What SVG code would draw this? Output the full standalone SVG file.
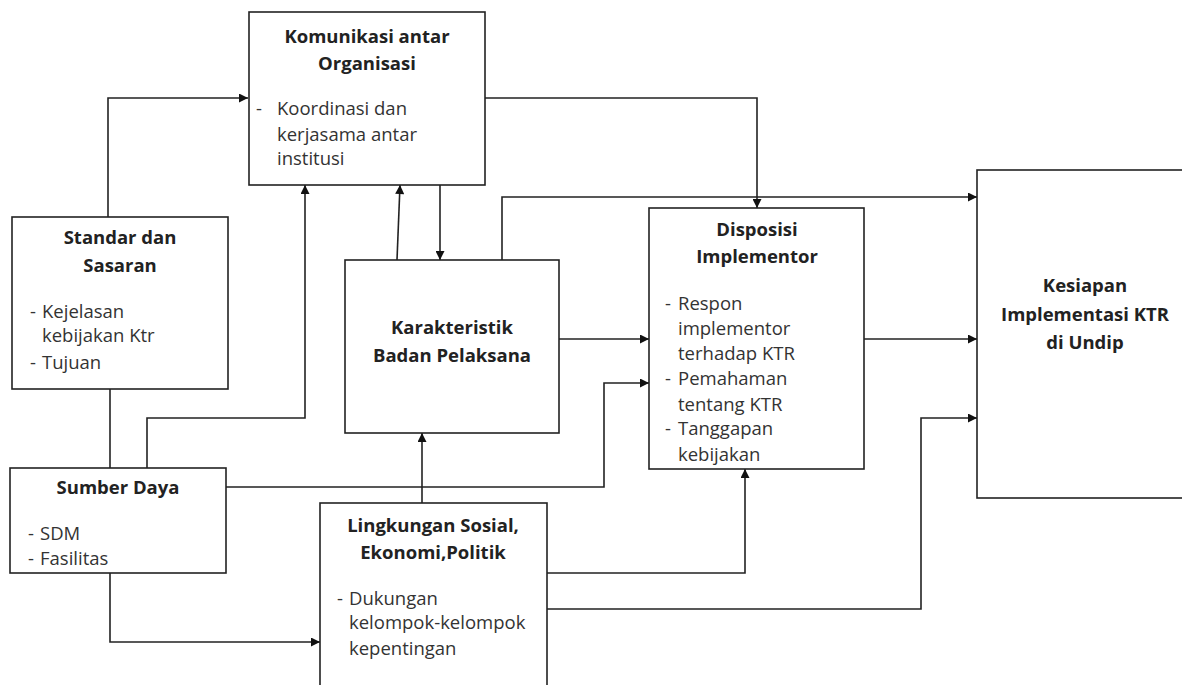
<svg xmlns="http://www.w3.org/2000/svg" width="1182" height="685" viewBox="0 0 1182 685">
  <style>
    .box { fill: #ffffff; stroke: #222222; stroke-width: 1.6; }
    .title { font-family: "Open Sans", "Noto Sans", sans-serif; font-size: 18.5px; font-weight: bold; fill: #222222; text-anchor: middle; }
    .item { font-family: "Open Sans", "Noto Sans", sans-serif; font-size: 18.5px; fill: #333333; }
    .link { fill: none; stroke: #222222; stroke-width: 1.6; }
  </style>
  <defs>
    <marker id="arrow" viewBox="0 0 10 10" refX="10" refY="5" markerWidth="10" markerHeight="9" markerUnits="userSpaceOnUse" orient="auto">
      <path d="M0,0 L10,5 L0,10 z" fill="#111111"/>
    </marker>
  </defs>
  <rect width="1182" height="685" fill="#ffffff"/>

  <g id="connectors">
    <path class="link" d="M108,217 V98 H248" marker-end="url(#arrow)"/>
    <path class="link" d="M485,98 H757 V208" marker-end="url(#arrow)"/>
    <path class="link" d="M147,468 V418 H305 V185" marker-end="url(#arrow)"/>
    <path class="link" d="M397,260 L400,185" marker-end="url(#arrow)"/>
    <path class="link" d="M440,185 V260" marker-end="url(#arrow)"/>
    <path class="link" d="M502,260 V197 H977" marker-end="url(#arrow)"/>
    <path class="link" d="M559,339 H649" marker-end="url(#arrow)"/>
    <path class="link" d="M226,487 H604 V383 H649" marker-end="url(#arrow)"/>
    <path class="link" d="M110,389 V468"/>
    <path class="link" d="M110,573 V642 H320" marker-end="url(#arrow)"/>
    <path class="link" d="M422,503 V433" marker-end="url(#arrow)"/>
    <path class="link" d="M547,573 H745 V469" marker-end="url(#arrow)"/>
    <path class="link" d="M547,609 H921 V418 H977" marker-end="url(#arrow)"/>
    <path class="link" d="M864,339 H977" marker-end="url(#arrow)"/>
  </g>

  <g id="komunikasi">
    <rect class="box" x="249" y="12" width="236" height="173"/>
    <text class="title" x="367" y="43">Komunikasi antar</text>
    <text class="title" x="367" y="70">Organisasi</text>
    <text class="item" x="256" y="115">-</text>
    <text class="item" x="277" y="115">Koordinasi dan</text>
    <text class="item" x="277" y="141">kerjasama antar</text>
    <text class="item" x="277" y="165">institusi</text>
  </g>

  <g id="standar">
    <rect class="box" x="12" y="217" width="216" height="172"/>
    <text class="title" x="120" y="244">Standar dan</text>
    <text class="title" x="120" y="272">Sasaran</text>
    <text class="item" x="30" y="318">-</text>
    <text class="item" x="42" y="318">Kejelasan</text>
    <text class="item" x="42" y="342">kebijakan Ktr</text>
    <text class="item" x="30" y="369">-</text>
    <text class="item" x="42" y="369">Tujuan</text>
  </g>

  <g id="karakteristik">
    <rect class="box" x="345" y="260" width="214" height="173"/>
    <text class="title" x="452" y="334">Karakteristik</text>
    <text class="title" x="452" y="362">Badan Pelaksana</text>
  </g>

  <g id="sumber">
    <rect class="box" x="10" y="468" width="216" height="105"/>
    <text class="title" x="118" y="494">Sumber Daya</text>
    <text class="item" x="28" y="540">-</text>
    <text class="item" x="40" y="540">SDM</text>
    <text class="item" x="28" y="565">-</text>
    <text class="item" x="40" y="565">Fasilitas</text>
  </g>

  <g id="lingkungan">
    <rect class="box" x="320" y="503" width="227" height="200"/>
    <text class="title" x="433" y="532">Lingkungan Sosial,</text>
    <text class="title" x="433" y="559">Ekonomi,Politik</text>
    <text class="item" x="337" y="605">-</text>
    <text class="item" x="349" y="605">Dukungan</text>
    <text class="item" x="349" y="629">kelompok-kelompok</text>
    <text class="item" x="349" y="655">kepentingan</text>
  </g>

  <g id="disposisi">
    <rect class="box" x="649" y="208" width="215" height="261"/>
    <text class="title" x="757" y="236">Disposisi</text>
    <text class="title" x="757" y="263">Implementor</text>
    <text class="item" x="665" y="310">-</text>
    <text class="item" x="678" y="310">Respon</text>
    <text class="item" x="678" y="335">implementor</text>
    <text class="item" x="678" y="360">terhadap KTR</text>
    <text class="item" x="665" y="385">-</text>
    <text class="item" x="678" y="385">Pemahaman</text>
    <text class="item" x="678" y="411">tentang KTR</text>
    <text class="item" x="665" y="435">-</text>
    <text class="item" x="678" y="435">Tanggapan</text>
    <text class="item" x="678" y="461">kebijakan</text>
  </g>

  <g id="kesiapan">
    <rect class="box" x="977" y="170" width="215" height="328"/>
    <text class="title" x="1085" y="292">Kesiapan</text>
    <text class="title" x="1085" y="321">Implementasi KTR</text>
    <text class="title" x="1085" y="349">di Undip</text>
  </g>
</svg>
